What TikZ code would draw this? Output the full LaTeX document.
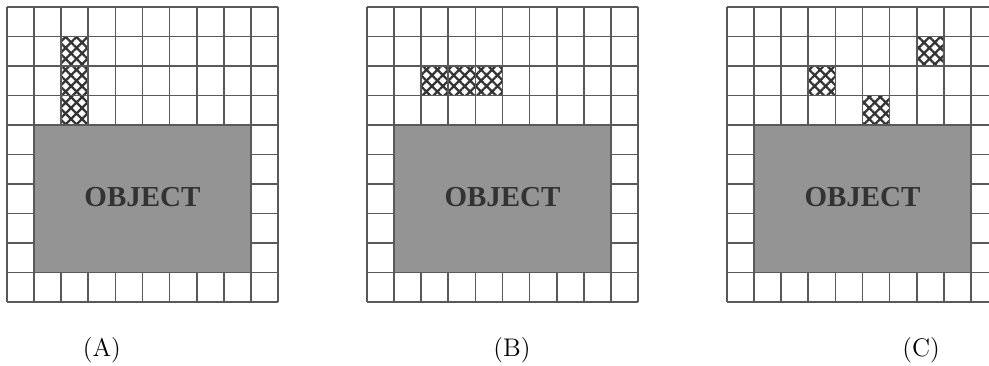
\documentclass[tikz,border=0pt]{standalone}
\usepackage{fontspec}
\newfontfamily\objfont{Liberation Serif}
\usetikzlibrary{patterns.meta}

\begin{document}
\begin{tikzpicture}[
		gridline/.style={line width=1pt,draw=black!65},
		hatchup/.style={pattern={Lines[angle=45,distance=4.4pt,line width=1.3pt]},pattern color=black!80},
		hatchdown/.style={pattern={Lines[angle=-45,distance=4.4pt,line width=1.3pt]},pattern color=black!80}]
	\useasboundingbox (0,0) rectangle (19.78,7.3);
	\foreach \dx/\lab/\lx/\cells in {%
		0.14/A/3.5/{2/6/3/9},
		7.34/B/5.35/{2/7/5/8},
		14.54/C/7.16/{7/8/8/9,3/7/4/8,5/6/6/7}}{
		\begin{scope}[xshift=\dx cm,yshift=1.26cm,x=0.542cm,y=0.59cm]
			% marked cells
			\foreach \ax/\ay/\bx/\by in \cells {
				\path[hatchup] (\ax,\ay) rectangle (\bx,\by);
				\path[hatchdown] (\ax,\ay) rectangle (\bx,\by);
			}
			\foreach \i in {0,...,10} {
				\draw[gridline] (\i,0) -- (\i,10);
				\draw[gridline] (0,\i) -- (10,\i);
			}
			\filldraw[gridline,fill=black!42] (1,1) rectangle (9,6);
			\node[black!80,font=\objfont\bfseries\fontsize{16.5}{18}\selectfont] (obj\lab) at (5,3.55) {OBJECT};
			\node[font=\fontsize{14.5}{17}\selectfont] (lab\lab) at (\lx,-1.63) {(\lab)};
		\end{scope}
	}
\end{tikzpicture}
\end{document}
